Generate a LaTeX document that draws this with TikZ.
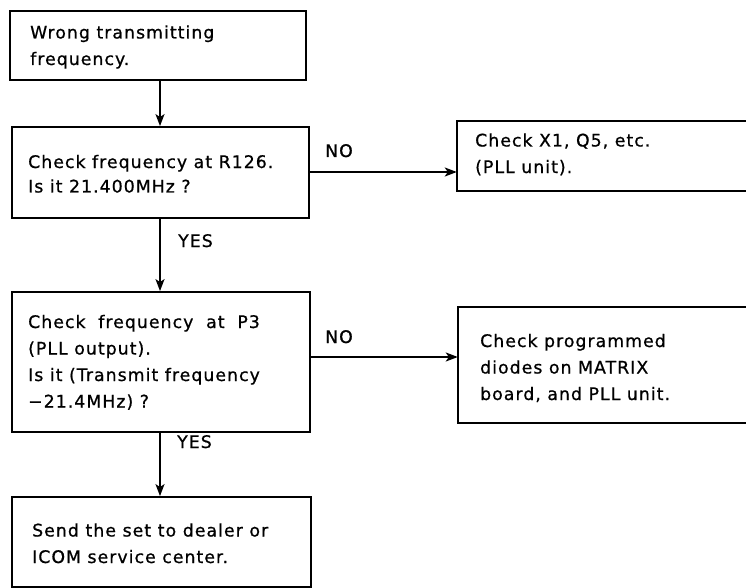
\documentclass[tikz,border=0pt]{standalone}
\usepackage{fontspec}
\setmainfont{DejaVu Sans}[LetterSpace=6,FakeBold=0.8]
\usetikzlibrary{arrows.meta}
\newlength\wjust
\begin{document}
\begin{tikzpicture}[x=1pt,y=-1pt,
  box/.style={draw,line width=1.8pt,inner sep=0pt},
  ghost/.style={inner sep=0pt},
  txt/.style={anchor=base west,inner sep=0pt,align=left,font=\fontsize{17.3}{26.5}\selectfont},
  lbl/.style={anchor=base west,inner sep=0pt,font=\fontsize{17.3}{20}\selectfont},
  arr/.style={line width=1.7pt,-{Stealth[length=12pt,width=9pt,inset=3pt]}}]
\useasboundingbox (0,0) rectangle (746,588);
% left column boxes
\node[box,minimum width=296pt,minimum height=69pt] (b1) at (158,45.5) {};
\node[box,minimum width=297pt,minimum height=91pt] (b2) at (160.5,172.5) {};
\node[box,minimum width=298pt,minimum height=140pt] (b4) at (161,362) {};
\node[box,minimum width=299pt,minimum height=90pt] (b6) at (161.5,542) {};
% right boxes (open on the right, cut by the page edge)
\node[ghost,minimum width=289pt,minimum height=70pt] (b3) at (601.5,156) {};
\node[ghost,minimum width=288pt,minimum height=116pt] (b5) at (602,365) {};
\draw[line width=1.8pt] (b3.north east) -- (b3.north west) -- (b3.south west) -- (b3.south east);
\draw[line width=1.8pt] (b5.north east) -- (b5.north west) -- (b5.south west) -- (b5.south east);
% texts (anchor = baseline of the last line)
\node[txt] (t1) at (30,65) {Wrong transmitting\\frequency.};
\node[txt,font=\fontsize{17.3}{24.5}\selectfont] (t2) at (28,192.5) {Check frequency at R126.\\Is it 21.400MHz ?};
\node[txt] (t3) at (475,173) {Check X1, Q5, etc.\\(PLL unit).};
\node[txt] (t4) at (28,407.5) {\settowidth{\wjust}{Is it (Transmit frequency}\makebox[\wjust][s]{Check frequency at P3}\\(PLL output).\\Is it (Transmit frequency\\−21.4MHz) ?};
\node[txt] (t5) at (480,400) {Check programmed\\diodes on MATRIX\\board, and PLL unit.};
\node[txt] (t6) at (32,563) {\makebox[236pt][s]{Send the set to dealer or}\\ICOM service center.};
% connectors
\coordinate (ax) at (160,0);
\coordinate (n1) at (0,172);
\coordinate (n2) at (0,357);
\draw[arr] (b1.south -| ax) -- (b2.north -| ax);
\draw[arr] (b2.south -| ax) -- (b4.north -| ax);
\draw[arr] (b4.south -| ax) -- (b6.north -| ax);
\draw[arr] (b2.east |- n1) -- (b3.west |- n1);
\draw[arr] (b4.east |- n2) -- (b5.west |- n2);
% labels
\node[lbl] (no1) at (325,157) {NO};
\node[lbl] (no2) at (325,343) {NO};
\node[lbl] (yes1) at (178,247) {YES};
\node[lbl] (yes2) at (177,448) {YES};
\end{tikzpicture}
\end{document}
